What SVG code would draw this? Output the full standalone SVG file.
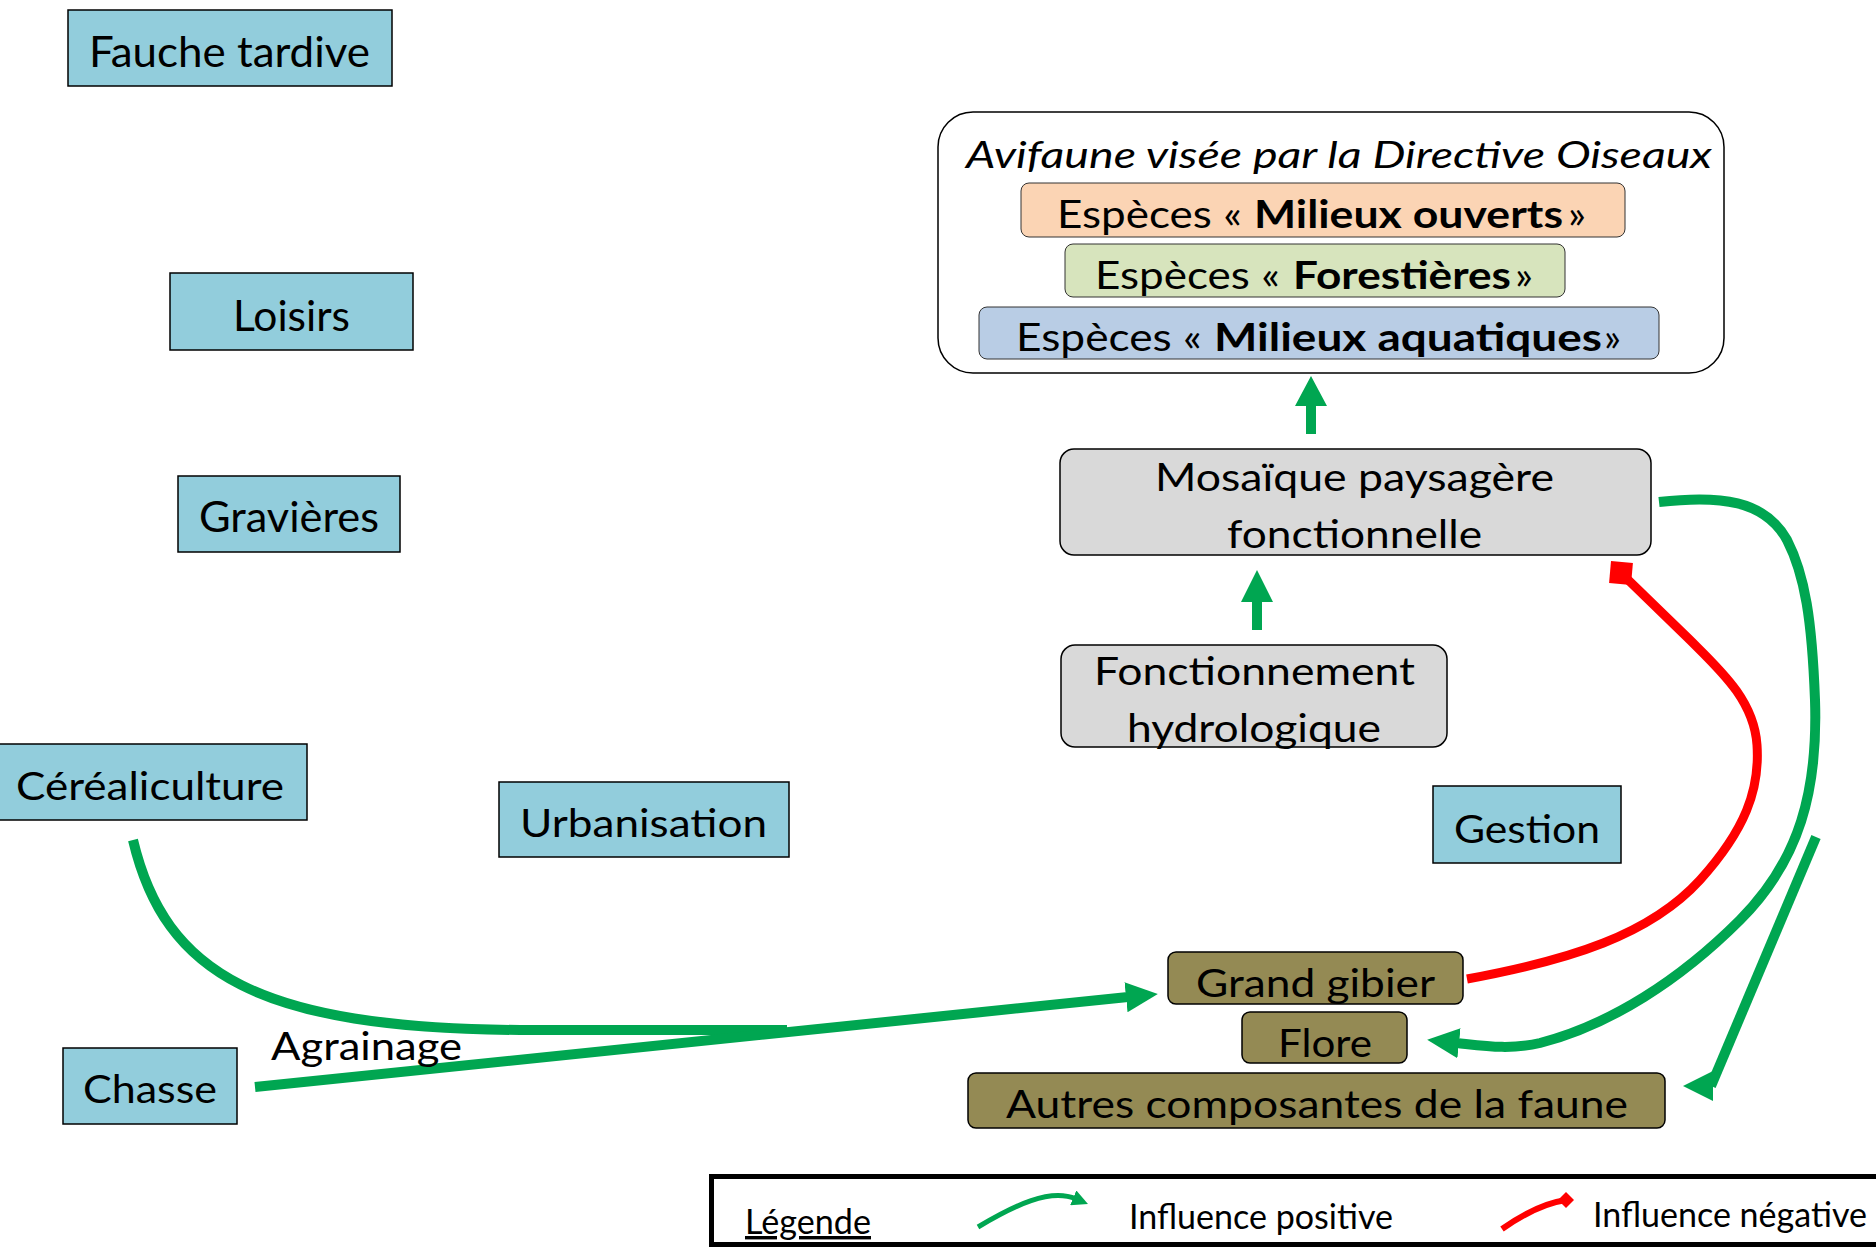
<svg xmlns="http://www.w3.org/2000/svg" width="1876" height="1247" viewBox="0 0 1876 1247">
<style>
text{font-family:Lato,"Open Sans",sans-serif;fill:#000}
.t{font-size:39px}
.tb{font-size:42px}
.b{font-weight:bold}
.it{font-style:italic;font-size:36px}
.sp{font-size:39px}
.lg{font-size:34px}
.blue{fill:#92CDDC;stroke:#000;stroke-width:1.5}
.gray{fill:#D9D9D9;stroke:#000;stroke-width:1.5}
.olive{fill:#948A54;stroke:#000;stroke-width:1.5}
.pos{fill:none;stroke:#00A651;stroke-width:10}
.neg{fill:none;stroke:#FF0000;stroke-width:9}
</style>
<defs>
<marker id="ah" markerUnits="userSpaceOnUse" markerWidth="32" markerHeight="32" viewBox="0 0 32 32" refX="2" refY="16" orient="auto"><path d="M0,1 L32,16 L0,31 z" fill="#00A651"/></marker>
<marker id="ahL" markerUnits="userSpaceOnUse" markerWidth="32" markerHeight="32" viewBox="0 0 32 32" refX="2" refY="16" orient="180"><path d="M0,1 L30,16 L0,31 z" fill="#00A651"/></marker>
<marker id="ahS" markerUnits="userSpaceOnUse" markerWidth="16" markerHeight="16" viewBox="0 0 16 16" refX="3" refY="8" orient="auto"><path d="M0,0 L16,8 L0,16 z" fill="#00A651"/></marker>
<marker id="sq" markerUnits="userSpaceOnUse" markerWidth="24" markerHeight="24" viewBox="-12 -12 24 24" refX="0" refY="0" orient="5" overflow="visible"><rect x="-11" y="-11" width="22" height="22" fill="#FF0000"/></marker>
<marker id="dm" markerUnits="userSpaceOnUse" markerWidth="18" markerHeight="18" viewBox="-9 -9 18 18" refX="0" refY="0" orient="0" overflow="visible"><path d="M0,-8 L8,0 L0,8 L-8,0 z" fill="#FF0000"/></marker>
</defs>

<g id="connectors">
<path class="pos" d="M133,840 C165,975 260,1028 520,1030 L787,1030"/>
<path class="pos" d="M255,1087 L1128,997" marker-end="url(#ah)"/>
<path class="pos" d="M1659,502 C1720,495 1765,500 1787,540 C1805,575 1812,620 1815,700 C1818,790 1800,860 1740,920 C1680,980 1610,1025 1540,1043 C1510,1050 1485,1046 1457,1043" marker-end="url(#ah)"/>
<path class="pos" d="M1816,837 L1711,1086" marker-end="url(#ahL)"/>
<path class="neg" d="M1467,979 C1570,960 1650,935 1700,880 C1745,830 1760,790 1757,745 C1754,700 1720,670 1690,640 L1621,573" marker-end="url(#sq)"/>
<polygon id="up1" points="1311,376 1327,406 1316,406 1316,434 1306,434 1306,406 1295,406" fill="#00A651"/>
<polygon id="up2" points="1257,570 1273,602 1262,602 1262,630 1252,630 1252,602 1241,602" fill="#00A651"/>
</g>

<g id="fauche"><rect class="blue" x="68" y="10" width="324" height="76"/><text class="tb" x="89" y="67" textLength="281" lengthAdjust="spacingAndGlyphs">Fauche tardive</text></g>
<g id="loisirs"><rect class="blue" x="170" y="273" width="243" height="77"/><text class="tb" x="233" y="331" textLength="117" lengthAdjust="spacingAndGlyphs">Loisirs</text></g>
<g id="gravieres"><rect class="blue" x="178" y="476" width="222" height="76"/><text class="tb" x="199" y="532" textLength="180" lengthAdjust="spacingAndGlyphs">Gravières</text></g>
<g id="cerealiculture"><rect class="blue" x="-1" y="744" width="308" height="76"/><text class="t" x="16" y="800" textLength="268" lengthAdjust="spacingAndGlyphs">Céréaliculture</text></g>
<g id="urbanisation"><rect class="blue" x="499" y="782" width="290" height="75"/><text class="t" x="520" y="837" textLength="247" lengthAdjust="spacingAndGlyphs">Urbanisation</text></g>
<g id="chasse"><rect class="blue" x="63" y="1048" width="174" height="76"/><text class="t" x="83" y="1103" textLength="134" lengthAdjust="spacingAndGlyphs">Chasse</text></g>
<g id="gestion"><rect class="blue" x="1433" y="786" width="188" height="77"/><text class="t" x="1454" y="843" textLength="146" lengthAdjust="spacingAndGlyphs">Gestion</text></g>
<g id="agrainage"><text class="t" x="271" y="1060" textLength="191" lengthAdjust="spacingAndGlyphs">Agrainage</text></g>

<g id="avifaune">
<rect x="938" y="112" width="786" height="261" rx="35" fill="#fff" stroke="#000" stroke-width="1.5"/>
<text class="it" x="966" y="168" textLength="746" lengthAdjust="spacingAndGlyphs">Avifaune visée par la Directive Oiseaux</text>
<g id="ouverts"><rect x="1021" y="183" width="604" height="54" rx="8" fill="#FBD4B4" stroke="#333" stroke-width="1"/>
<text class="sp" x="1057" y="228" textLength="185" lengthAdjust="spacingAndGlyphs">Espèces «</text>
<text class="sp b" x="1254" y="228" textLength="309" lengthAdjust="spacingAndGlyphs">Milieux ouverts</text>
<text class="sp" x="1568" y="228" textLength="18" lengthAdjust="spacingAndGlyphs">»</text></g>
<g id="forestieres"><rect x="1065" y="244" width="500" height="53" rx="8" fill="#D7E4BD" stroke="#333" stroke-width="1"/>
<text class="sp" x="1095" y="289" textLength="185" lengthAdjust="spacingAndGlyphs">Espèces «</text>
<text class="sp b" x="1293" y="289" textLength="218" lengthAdjust="spacingAndGlyphs">Forestières</text>
<text class="sp" x="1515" y="289" textLength="18" lengthAdjust="spacingAndGlyphs">»</text></g>
<g id="aquatiques"><rect x="979" y="307" width="680" height="52" rx="8" fill="#B9CDE5" stroke="#333" stroke-width="1"/>
<text class="sp" x="1016" y="351" textLength="186" lengthAdjust="spacingAndGlyphs">Espèces «</text>
<text class="sp b" x="1214" y="351" textLength="388" lengthAdjust="spacingAndGlyphs">Milieux aquatiques</text>
<text class="sp" x="1604" y="351" textLength="17" lengthAdjust="spacingAndGlyphs">»</text></g>
</g>

<g id="mosaique"><rect class="gray" x="1060" y="449" width="591" height="106" rx="14"/>
<text class="t" x="1155" y="491" textLength="399" lengthAdjust="spacingAndGlyphs">Mosaïque paysagère</text>
<text class="t" x="1227" y="548" textLength="255" lengthAdjust="spacingAndGlyphs">fonctionnelle</text></g>
<g id="hydro"><rect class="gray" x="1061" y="645" width="386" height="102" rx="14"/>
<text class="t" x="1094" y="685" textLength="321" lengthAdjust="spacingAndGlyphs">Fonctionnement</text>
<text class="t" x="1127" y="742" textLength="254" lengthAdjust="spacingAndGlyphs">hydrologique</text></g>

<g id="gibier"><rect class="olive" x="1168" y="952" width="295" height="52" rx="8"/><text class="t" x="1196" y="997" textLength="239" lengthAdjust="spacingAndGlyphs">Grand gibier</text></g>
<g id="flore"><rect class="olive" x="1242" y="1012" width="165" height="51" rx="8"/><text class="t" x="1278" y="1057" textLength="94" lengthAdjust="spacingAndGlyphs">Flore</text></g>
<g id="autres"><rect class="olive" x="968" y="1073" width="697" height="55" rx="8"/><text class="t" x="1006" y="1118" textLength="622" lengthAdjust="spacingAndGlyphs">Autres composantes de la faune</text></g>

<g id="legende">
<rect x="711.5" y="1176.5" width="1200" height="68" fill="none" stroke="#000" stroke-width="5"/>
<text class="lg" x="745" y="1234" textLength="126" lengthAdjust="spacingAndGlyphs" text-decoration="underline">Légende</text>
<path d="M978,1227 C1015,1205 1050,1188 1076,1199" fill="none" stroke="#00A651" stroke-width="5" marker-end="url(#ahS)"/>
<text class="lg" x="1129" y="1229" textLength="264" lengthAdjust="spacingAndGlyphs">Influence positive</text>
<path d="M1502,1229 C1522,1215 1545,1203 1566,1200" fill="none" stroke="#FF0000" stroke-width="6" marker-end="url(#dm)"/>
<text class="lg" x="1593" y="1227" textLength="274" lengthAdjust="spacingAndGlyphs">Influence négative</text>
</g>
</svg>
